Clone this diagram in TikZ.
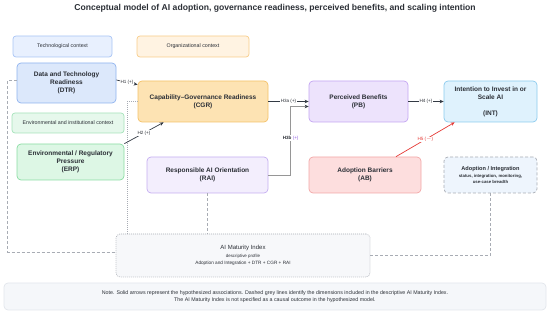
\documentclass[tikz,border=0pt]{standalone}
\usepackage{fontspec}
\setmainfont{Liberation Sans}
\definecolor{techfill}{RGB}{232, 240, 254}
\definecolor{techdraw}{RGB}{169, 197, 245}
\definecolor{orgfill}{RGB}{255, 243, 226}
\definecolor{orgdraw}{RGB}{248, 205, 138}
\definecolor{dtrfill}{RGB}{220, 232, 251}
\definecolor{dtrdraw}{RGB}{143, 179, 239}
\definecolor{envfill}{RGB}{230, 248, 236}
\definecolor{envdraw}{RGB}{166, 227, 186}
\definecolor{erpfill}{RGB}{221, 247, 229}
\definecolor{erpdraw}{RGB}{138, 221, 163}
\definecolor{cgrfill}{RGB}{253, 227, 179}
\definecolor{cgrdraw}{RGB}{244, 193, 104}
\definecolor{raifill}{RGB}{243, 238, 253}
\definecolor{raidraw}{RGB}{197, 174, 241}
\definecolor{pbfill}{RGB}{237, 227, 252}
\definecolor{pbdraw}{RGB}{196, 165, 242}
\definecolor{intfill}{RGB}{223, 242, 253}
\definecolor{intdraw}{RGB}{140, 203, 238}
\definecolor{abfill}{RGB}{253, 222, 222}
\definecolor{abdraw}{RGB}{242, 167, 167}
\definecolor{adoptfill}{RGB}{238, 245, 253}
\definecolor{amifill}{RGB}{247, 248, 250}
\definecolor{notefill}{RGB}{245, 247, 250}
\definecolor{notedraw}{RGB}{226, 230, 236}
\definecolor{dimgray}{RGB}{168, 172, 180}
\definecolor{pathgray}{RGB}{150, 150, 150}
\definecolor{arrowdark}{RGB}{51, 58, 68}
\definecolor{barrierred}{RGB}{229, 57, 53}
\definecolor{hpurple}{RGB}{142, 91, 224}
\definecolor{textdark}{RGB}{43, 47, 54}
\usetikzlibrary{arrows.meta, positioning, calc}

\begin{document}
\begin{tikzpicture}[x=1pt, y=-1pt,
    box/.style={draw, rounded corners=4pt, line width=0.7pt, align=center, inner sep=0pt, text=textdark,
                font=\fontsize{6.5}{8}\selectfont\bfseries},
    ctxbox/.style={draw, rounded corners=3pt, line width=0.7pt, align=center, inner sep=0pt, text=textdark,
                font=\fontsize{5.3}{6}\selectfont},
    hyp/.style={-{Stealth[length=4pt, width=3.5pt]}, line width=0.7pt, arrowdark},
    hlabel/.style={font=\fontsize{4.6}{5}\selectfont, text=textdark, fill=white, inner sep=0.6pt},
    dimline/.style={draw=dimgray, line width=0.7pt, dash pattern=on 3pt off 2pt},
    dimdots/.style={draw=dimgray, line width=0.7pt, dash pattern=on 0.8pt off 1.2pt}]
    \useasboundingbox (0,0) rectangle (550,315);
    \node[font=\fontsize{8.6}{10}\selectfont\bfseries, text=textdark] (title) at (275, 8)
        {Conceptual model of AI adoption, governance readiness, perceived benefits, and scaling intention};

    \node[ctxbox, fill=techfill, draw=techdraw, minimum width=99pt, minimum height=21pt] (techctx) at (62.5, 46.5) {Technological context};
    \node[ctxbox, fill=orgfill, draw=orgdraw, minimum width=112pt, minimum height=21pt] (orgctx) at (193, 46.5) {Organizational context};
    \node[ctxbox, fill=envfill, draw=envdraw, minimum width=112pt, minimum height=20pt] (envctx) at (68, 123) {Environmental and institutional context};

    \node[box, fill=dtrfill, draw=dtrdraw, minimum width=99pt, minimum height=40pt] (dtr) at (66.5, 83)
        {Data and Technology\\Readiness\\(DTR)};
    \node[box, fill=erpfill, draw=erpdraw, minimum width=107pt, minimum height=36pt] (erp) at (70.5, 162)
        {Environmental / Regulatory\\Pressure\\(ERP)};
    \node[box, fill=cgrfill, draw=cgrdraw, minimum width=130pt, minimum height=41pt] (cgr) at (203, 101.5)
        {Capability--Governance Readiness\\(CGR)};
    \node[box, fill=raifill, draw=raidraw, minimum width=121pt, minimum height=36pt] (rai) at (207.5, 175)
        {Responsible AI Orientation\\(RAI)};
    \node[box, fill=pbfill, draw=pbdraw, minimum width=99pt, minimum height=41pt] (pb) at (358.5, 101.5)
        {Perceived Benefits\\(PB)};
    \node[box, fill=intfill, draw=intdraw, minimum width=93pt, minimum height=41pt] (int) at (490.5, 101.5)
        {Intention to Invest in or\\Scale AI\\[8pt](INT)};
    \node[box, fill=adoptfill, dimline, minimum width=93pt, minimum height=36pt,
          font=\fontsize{5.6}{6.8}\selectfont\bfseries] (adopt) at (490.5, 175)
        {Adoption / Integration\\{\fontsize{4.3}{7}\selectfont status, integration, monitoring,}\\[-1pt]
         {\fontsize{4.3}{5}\selectfont use-case breadth}};
    \node[box, fill=abfill, draw=abdraw, minimum width=112pt, minimum height=36pt] (ab) at (365, 175)
        {Adoption Barriers\\(AB)};

    \node[box, fill=amifill, dimdots, minimum width=254pt, minimum height=43pt,
          font=\fontsize{6}{8}\selectfont] (ami) at (243, 255.5)
        {AI Maturity Index\\{\fontsize{4.4}{7}\selectfont descriptive profile}\\[-1pt]
         {\fontsize{4.7}{6}\selectfont Adoption and Integration + DTR + CGR + RAI}};
    \node[ctxbox, fill=notefill, draw=notedraw, rounded corners=4pt, minimum width=542pt, minimum height=27pt,
          font=\fontsize{5.3}{6.8}\selectfont] (note) at (275, 296.5)
        {Note. Solid arrows represent the hypothesized associations. Dashed grey lines identify the dimensions included in the descriptive AI Maturity Index.\\
         The AI Maturity Index is not specified as a causal outcome in the hypothesized model.};

    \draw[dimline] ($(dtr.west)+(0,-3)$) -- ++(-9,0) |- ($(ami.west)+(0,-3.5)$);
    \draw[dimdots] (cgr.west) -| ($(ami.north west)+(12,0)$);
    \draw[dimline] (rai.south) -- (rai.south |- ami.north);
    \draw[dimline] (adopt.south) |- (ami.east);

    \draw[hyp] ($(dtr.east)+(0,-3)$) -- ($(cgr.north west)+(0,4)$) node[hlabel, midway] {H1 (+)};
    \draw[hyp] (erp.north east) -- ($(cgr.south west)+(26,0)$) node[hlabel, midway] {H2 (+)};
    \draw[hyp] (cgr.east) -- (pb.west) node[hlabel, midway] {H3a (+)};
    \draw[-{Stealth[length=4pt, width=3.5pt, color=arrowdark]}, line width=0.9pt, pathgray] (rai.east)
        -| node[hlabel, pos=0.77] {\textbf{H3b} \textcolor{hpurple}{(+)}} ($(pb.west)+(-18,5)$) -- ($(pb.west)+(0,5)$);
    \draw[hyp] (pb.east) -- (int.west) node[hlabel, midway] {H4 (+)};
    \draw[hyp, barrierred] ($(ab.north)+(31,0)$) -- ($(int.south west)+(11,0)$)
        node[hlabel, midway, text=barrierred] {H5 ($-$)};
\end{tikzpicture}
\end{document}
